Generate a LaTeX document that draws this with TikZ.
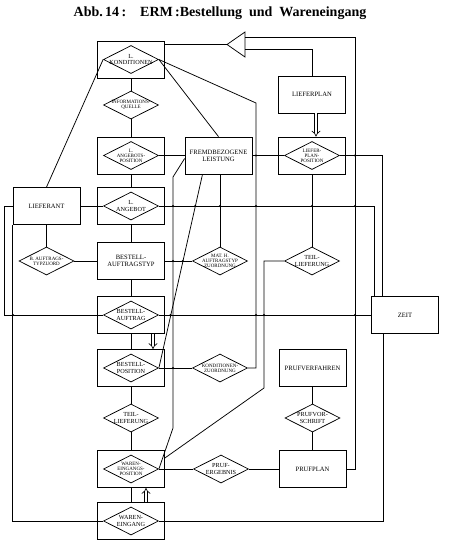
\documentclass[tikz,border=0pt]{standalone}
\usepackage{fontspec}
\setmainfont{Liberation Serif}
\usetikzlibrary{arrows.meta,shapes.geometric,calc}

\begin{document}
\begin{tikzpicture}[x=1pt,y=-1pt,line width=0.75pt,
      ent/.style={draw,minimum width=67pt,minimum height=37pt,inner sep=1pt,
                  align=center,font=\fontsize{6.6}{7.3}\selectfont},
      rel/.style={draw,diamond,aspect=2,minimum width=55pt,minimum height=28pt,
                  inner sep=-2.5pt,align=center,font=\fontsize{6.2}{6.2}\selectfont},
      rels/.style={rel,font=\fontsize{5}{5}\selectfont},
      isa/.style={double,double distance=2.4pt,line width=0.65pt,-{Implies}}]
  \useasboundingbox (0,0) rectangle (453,549);
  \node[font=\bfseries\fontsize{14}{16}\selectfont] (title) at (220,13)
    {Abb.\,14\,:\quad ERM\,:Bestellung\ \ und\ \ Wareneingang};

  % main column
  \node[ent]  (kond)    at (131,59.5) {};
  \node[rel]  (kondD)   at (kond) {L.\\KONDITIONEN};
  \node[rels] (iq)      at (131,105) {INFORMATIONS-\\QUELLE};
  \node[ent]  (angpos)  at (131,155.5) {};
  \node[rels] (angposD) at (angpos) {L.\\ANGEBOTS-\\POSITION};
  \node[ent]  (angeb)   at (131,206) {};
  \node[rel]  (angebD)  at (angeb) {L.\\ANGEBOT};
  \node[ent]  (btyp)    at (131,261) {BESTELL-\\AUFTRAGSTYP};
  \node[ent]  (bauf)    at (131,315) {};
  \node[rel]  (baufD)   at (bauf) {BESTELL-\\AUFTRAG};
  \node[ent]  (bpos)    at (131,368) {};
  \node[rel]  (bposD)   at (bpos) {BESTELL-\\POSITION};
  \node[rel]  (teil1)   at (131,418) {TEIL-\\LIEFERUNG};
  \node[ent]  (wepos)   at (131,469) {};
  \node[rels] (weposD)  at (wepos) {WAREN-\\EINGANGS-\\POSITION};
  \node[ent]  (we)      at (131,521) {};
  \node[rel]  (weD)     at (we) {WAREN-\\EINGANG};

  \node[ent]  (lief)  at (46.5,206) {LIEFERANT};
  \node[rels] (batz)  at (46.5,261) {B. AUFTRAGS-\\TYPZUORD};
  \node[ent]  (fremd) at (218.5,155.5) {FREMDBEZOGENE\\LEISTUNG};
  \node[rels] (math)  at (220,261) {MAT. H.\\AUFTRAGSTYP\\ZUORDNUNG};
  \node[rels] (kz)    at (220,368) {KONDITIONEN-\\ZUORDNUNG};
  \node[rel]  (pe)    at (221,469) {PRUF-\\ERGEBNIS};

  \node[ent]  (lplan)  at (312,94.5) {LIEFERPLAN};
  \node[ent]  (lppos)  at (312,155.5) {};
  \node[rels] (lpposD) at (lppos) {LIEFER-\\PLAN-\\POSITION};
  \node[rel]  (teil2)  at (312,261) {TEIL-\\LIEFERUNG};
  \node[ent]  (pverf)  at (312.5,368) {PRUFVERFAHREN};
  \node[rel]  (pvs)    at (312.5,418) {PRUFVOR-\\SCHRIFT};
  \node[ent]  (pplan)  at (312.5,469) {PRUFPLAN};
  \node[ent]  (zeit)   at (405,315) {ZEIT};

  % generalisation triangle
  \coordinate (gtip) at (227,44.5);
  \coordinate (gtop) at (245,37);
  \coordinate (gbot) at (245,49.5);
  \coordinate (rail) at (355,37);
  \draw (gtip) -- (245,32) -- (245,57) -- cycle;
  \draw (kond.east |- gtip) -- (gtip);
  \draw (gtop) -- (rail) |- (pplan.east);
  \draw (gbot) -| (lplan.north);

  \foreach \a/\b in {kond/iq,iq/angpos,angpos/angeb,angeb/btyp,btyp/bauf,
                     bauf/bpos,bpos/teil1,teil1/wepos,wepos/we,lief/batz,
                     lppos/teil2,pverf/pvs,pvs/pplan}
    \draw (\a.south) -- (\b.north);

  \coordinate (kbend) at (256,103);
  \coordinate (tbend) at (264,388);
  \coordinate (fl1) at (173,177);
  \coordinate (fl2) at (173,428);
  \draw (lief.north) -- (kondD.west);
  \draw (kondD.east) -- (fremd.north);
  \draw (kondD.east) -- (kbend) |- (kz.east);
  \draw (kz.west) -- (bposD.east);
  \draw (angposD.east) -- (fremd.west);
  \draw (fremd.east) -- (lpposD.west);
  \draw (lief.east) -- (angebD.west);
  \draw (angebD.east) -| ($(zeit.north west)+(3,0)$);
  \draw (lpposD.east) -| ($(zeit.north west)+(11,0)$);
  \draw ($(zeit.south west)+(12,0)$) |- (weD.east);
  \draw (lief.west) -- ++(-8,0) |- (baufD.west);
  \draw (baufD.east) -- (zeit.west);
  \draw (lief.south west) |- (weD.west);
  \draw (batz.east) -- (btyp.west);
  \draw (btyp.east) -- (math.west);
  \draw (fremd.south -| math.north) -- (math.north);
  \draw (teil2.west) -| (tbend) -- ([yshift=11pt]wepos.east);
  \draw ([yshift=-3pt]fremd.west) -- (fl1) -- (fl2) -- (weposD.east);
  \draw ([xshift=-16pt]fremd.south) -- (bposD.east);
  \draw (weposD.east) -- (pe.west);
  \draw (pe.east) -- (pplan.west);

  \draw[isa] ([xshift=4pt]lplan.south) -- ([xshift=4pt]lppos.north);
  \draw[isa] ([xshift=22pt]bauf.south) -- ([xshift=22pt]bpos.north);
  \draw[isa] ([xshift=15pt]we.north) -- ([xshift=15pt]wepos.south);

  % line hops
  \foreach \hx/\hy in {173/206,195.2/206,220/206,256/206,312/206,355/206,
                       256/155.5,355/155.5,173/261,182.8/261,13/315,
                       170.5/315,256/315,264/315,355/315,173/368}
    \fill (\hx,\hy) circle (1.1pt);
\end{tikzpicture}
\end{document}
